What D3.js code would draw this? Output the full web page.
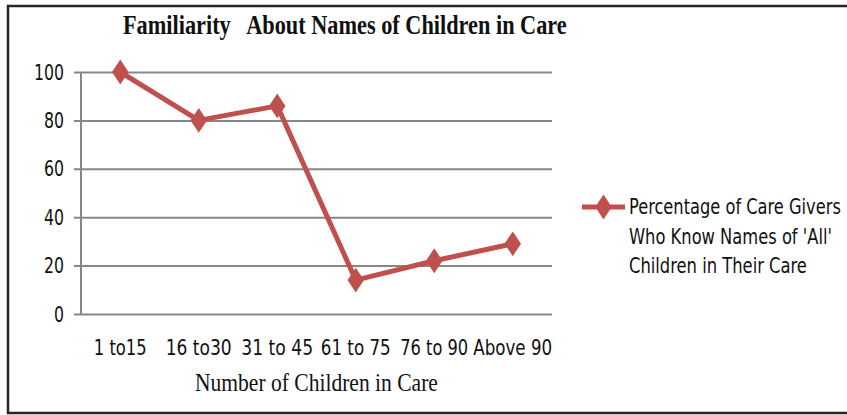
<!DOCTYPE html>
<html>
<head>
<meta charset="utf-8">
<script src="https://cdn.jsdelivr.net/npm/d3@7"></script>
<style>
  body { margin: 0; background: #fff; }
  svg { display: block; }
  .sans { font-family: "DejaVu Sans Condensed", "Open Sans", sans-serif; }
  .serif { font-family: "Liberation Serif", "DejaVu Serif", serif; }
</style>
</head>
<body>
<svg id="chart" width="847" height="415"></svg>
<script>
// Chart data
const categories = ["1 to15", "16 to30", "31 to 45", "61 to 75", "76 to 90", "Above 90"];
const percentKnowAll = [100, 80, 86, 14, 22, 29];
const yTicks = [0, 20, 40, 60, 80, 100];
const titleText = "Familiarity   About Names of Children in Care";
const xTitle = "Number of Children in Care";
const legendLines = ["Percentage of Care Givers", "Who Know Names of 'All'", "Children in Their Care"];

const svg = d3.select("#chart");
const W = 847;
const red = "#C0504D";
const grid = "#878787";
const ink = "#111";

// Places a text and squeezes it horizontally to a target width (narrow face look).
function narrowText(parent, str, x, y, width, opts) {
  const g = parent.append("g");
  const t = g.append("text")
    .attr("class", opts.cls)
    .attr("font-size", opts.size)
    .attr("font-weight", opts.weight || "normal")
    .attr("fill", ink)
    .style("white-space", "pre")
    .text(str);
  const natural = t.node().getComputedTextLength();
  const s = width / natural;
  let x0 = x;
  if (opts.anchor === "middle") x0 = x - width / 2;
  else if (opts.anchor === "end") x0 = x - width;
  g.attr("transform", `translate(${x0},${y}) scale(${s},1)`);
  return g;
}

// Outer frame
svg.append("rect").attr("x", 8).attr("y", 6).attr("width", W + 10).attr("height", 407)
  .attr("fill", "none").attr("stroke", "#262626").attr("stroke-width", 2.5);

const plot = { left: 81, right: 552, top: 72, bottom: 314 };

const x = d3.scaleBand().domain(categories).range([plot.left, plot.right]);
const y = d3.scaleLinear().domain([0, 100]).range([plot.bottom, plot.top]);
const cx = c => x(c) + x.bandwidth() / 2;

// Gridlines with short left ticks
const yAxis = d3.axisLeft(y).tickValues(yTicks).tickSize(-(plot.right - plot.left)).tickSizeOuter(0).tickFormat("");
const gy = svg.append("g").attr("transform", `translate(${plot.left},0)`).call(yAxis);
gy.select(".domain").remove();
gy.selectAll(".tick line").attr("x1", -7).attr("stroke", grid).attr("stroke-width", 2);

// Vertical axis line
svg.append("line").attr("x1", plot.left).attr("x2", plot.left)
  .attr("y1", plot.top).attr("y2", plot.bottom).attr("stroke", grid).attr("stroke-width", 2);

// Value labels on the left
const yLabels = svg.append("g");
yTicks.forEach(v => {
  const s = String(v);
  narrowText(yLabels, s, 64, y(v) + 7.5, s.length * 10, { cls: "sans", size: 21, anchor: "end" });
});

// Category labels
const narrowWidths = [53, 66, 72, 70, 68, 79];
const xLabels = svg.append("g");
categories.forEach((c, i) => {
  narrowText(xLabels, c, cx(c), 355, narrowWidths[i], { cls: "sans", size: 21, anchor: "middle" });
});

// Series line
const line = d3.line().x((d, i) => cx(categories[i])).y(d => y(d));
svg.append("path").datum(percentKnowAll).attr("d", line)
  .attr("fill", "none").attr("stroke", red).attr("stroke-width", 5).attr("stroke-linejoin", "round");

const diamond = d3.symbol().type(d3.symbolDiamond).size(150);
svg.selectAll(".marker").data(percentKnowAll).enter().append("path")
  .attr("class", "marker")
  .attr("d", diamond)
  .attr("transform", (d, i) => `translate(${cx(categories[i])},${y(d)}) scale(1.15,1)`)
  .attr("fill", red).attr("stroke", red).attr("stroke-width", 1);

// Title
narrowText(svg, titleText, 123, 34, 444, { cls: "serif", size: 28, weight: "bold" });

// X axis title
narrowText(svg, xTitle, 195, 391, 243, { cls: "serif", size: 25 });

// Legend
const lg = svg.append("g");
lg.append("line").attr("x1", 582).attr("x2", 625).attr("y1", 207).attr("y2", 207)
  .attr("stroke", red).attr("stroke-width", 5);
lg.append("path").attr("d", diamond).attr("transform", "translate(603.5,207) scale(1.15,1)")
  .attr("fill", red).attr("stroke", red);
const legendWidths = [212, 203, 178];
legendLines.forEach((str, i) => {
  narrowText(lg, str, 629, 214 + i * 29.5, legendWidths[i], { cls: "sans", size: 21 });
});
</script>
</body>
</html>
